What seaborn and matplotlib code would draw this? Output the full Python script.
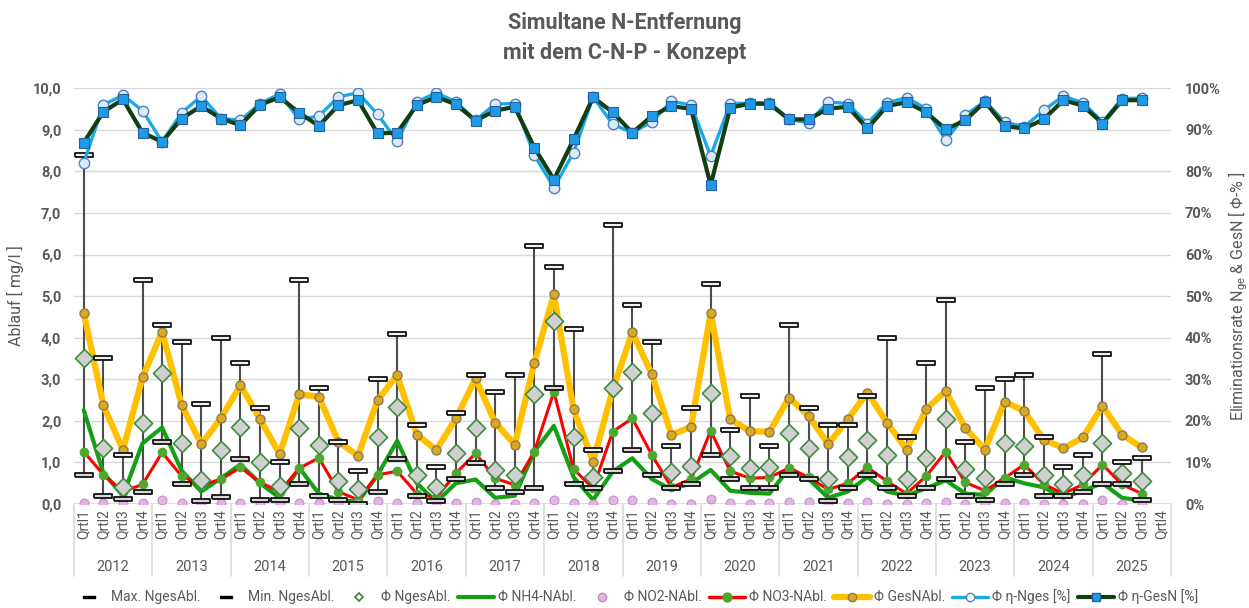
import numpy as np
import pandas as pd
import matplotlib
matplotlib.use("Agg")
import matplotlib.pyplot as plt
import matplotlib.transforms as mtransforms
from matplotlib.lines import Line2D
from matplotlib.ticker import FuncFormatter, PercentFormatter
import seaborn as sns

nan = np.nan
years = [str(y) for y in range(2012, 2026)]
quarters = ["Qrtl1", "Qrtl2", "Qrtl3", "Qrtl4"]

# Ablauf-Werte [mg/l] je Quartal (2012 Qrtl1 ... 2025 Qrtl4)
max_nges = [8.4, 3.5, 1.19, 5.38, 4.3, 3.9, 2.4, 4.0, 3.4, 2.3, 1.0, 5.38,
            2.8, 1.5, 0.79, 3.0, 4.1, 1.9, 0.9, 2.2, 3.1, 2.7, 3.1, 6.2,
            5.69, 4.2, 1.3, 6.7, 4.78, 3.9, 1.39, 2.3, 5.29, 1.79, 2.6, 1.39,
            4.3, 2.3, 1.9, 1.9, 2.6, 4.0, 1.6, 3.4, 4.9, 1.5, 2.8, 3.0,
            3.1, 1.6, 0.9, 1.19, 3.6, 1.0, 1.1, nan]
min_nges = [0.69, 0.19, 0.13, 0.29, 1.49, 0.48, 0.08, 0.18, 1.08, 0.1, 0.1, 0.48,
            0.19, 0.1, 0.0, 0.29, 1.08, 0.19, 0.08, 0.6, 0.98, 0.39, 0.29, 0.39,
            2.8, 0.48, 0.39, 0.79, 1.3, 0.7, 0.39, 0.48, 1.19, 0.59, 0.39, 0.39,
            0.7, 0.6, 0.08, 0.39, 0.7, 0.39, 0.19, 0.39, 0.59, 0.19, 0.1, 0.48,
            0.69, 0.19, 0.19, 0.29, 0.48, 0.48, 0.1, nan]
nges = [3.5, 1.35, 0.42, 1.96, 3.16, 1.47, 0.58, 1.3, 1.86, 1.02, 0.43, 1.83,
        1.43, 0.55, 0.35, 1.62, 2.34, 0.71, 0.42, 1.22, 1.84, 0.82, 0.7, 2.64,
        4.41, 1.62, 0.64, 2.78, 3.17, 2.2, 0.78, 0.92, 2.66, 1.16, 0.87, 0.9,
        1.71, 1.34, 0.59, 1.14, 1.55, 1.18, 0.59, 1.1, 2.04, 0.84, 0.62, 1.46,
        1.39, 0.71, 0.47, 0.71, 1.47, 0.74, 0.56, nan]
nh4 = [2.26, 0.75, 0.2, 1.46, 1.84, 0.8, 0.3, 0.62, 0.95, 0.5, 0.15, 0.87,
       0.25, 0.1, 0.05, 0.7, 1.52, 0.5, 0.05, 0.5, 0.59, 0.15, 0.2, 1.26,
       1.88, 0.65, 0.1, 0.78, 1.1, 0.6, 0.35, 0.5, 0.82, 0.32, 0.27, 0.25,
       0.86, 0.6, 0.15, 0.3, 0.65, 0.3, 0.2, 0.38, 0.57, 0.25, 0.22, 0.64,
       0.5, 0.4, 0.15, 0.32, 0.5, 0.15, 0.08, nan]
no2 = [0.03, 0.03, 0.02, 0.02, 0.1, 0.03, 0.0, 0.03, 0.03, 0.0, 0.0, 0.03,
       0.03, 0.0, 0.0, 0.07, 0.03, 0.03, 0.02, 0.03, 0.05, 0.0, 0.0, 0.03,
       0.1, 0.03, 0.0, 0.1, 0.1, 0.05, 0.0, 0.0, 0.13, 0.03, 0.0, 0.03,
       0.05, 0.05, 0.0, 0.02, 0.05, 0.0, 0.0, 0.03, 0.05, 0.0, 0.0, 0.03,
       0.03, 0.0, 0.0, 0.0, 0.1, 0.0, 0.0, nan]
no3 = [1.26, 0.71, 0.3, 0.47, 1.24, 0.67, 0.46, 0.59, 0.88, 0.52, 0.3, 0.86,
       1.11, 0.3, 0.1, 0.7, 0.79, 0.25, 0.15, 0.74, 1.22, 0.62, 0.46, 1.26,
       2.7, 0.84, 0.38, 1.74, 2.06, 1.18, 0.4, 0.6, 1.76, 0.79, 0.62, 0.64,
       0.87, 0.64, 0.35, 0.5, 0.88, 0.55, 0.25, 0.67, 1.26, 0.52, 0.32, 0.62,
       0.95, 0.48, 0.25, 0.47, 0.95, 0.47, 0.25, nan]
gesn = [4.6, 2.38, 1.3, 3.05, 4.14, 2.38, 1.44, 2.06, 2.86, 2.04, 1.2, 2.64,
        2.58, 1.5, 1.16, 2.5, 3.1, 1.67, 1.3, 2.06, 3.02, 1.96, 1.43, 3.4,
        5.04, 2.28, 1.02, 2.75, 4.13, 3.12, 1.66, 1.86, 4.6, 2.04, 1.75, 1.74,
        2.56, 2.12, 1.44, 2.04, 2.68, 1.96, 1.31, 2.28, 2.72, 1.82, 1.31, 2.46,
        2.24, 1.55, 1.34, 1.6, 2.36, 1.67, 1.36, nan]
# Eliminationsraten [%]
eta_nges = [82.0, 96.0, 98.3, 94.6, 87.1, 94.1, 98.1, 92.7, 92.3, 96.3, 98.6, 92.5,
            93.3, 97.9, 98.9, 93.7, 87.3, 96.7, 98.9, 96.7, 92.3, 96.2, 96.3, 83.9,
            76.1, 84.5, 97.9, 91.3, 89.3, 91.9, 96.9, 95.9, 83.7, 96.3, 96.4, 96.5,
            92.5, 91.7, 96.7, 96.3, 91.5, 96.5, 97.7, 95.1, 87.5, 93.5, 96.9, 91.9,
            90.7, 94.7, 98.1, 96.5, 91.9, 97.5, 97.6, nan]
eta_gesn = [86.9, 94.3, 97.3, 89.3, 87.1, 92.7, 95.7, 92.7, 91.1, 96.0, 97.8, 94.1,
            90.9, 95.9, 97.1, 89.1, 89.3, 95.9, 97.9, 96.1, 92.2, 94.6, 95.5, 85.7,
            78.0, 87.7, 97.8, 94.2, 89.3, 93.3, 95.7, 95.0, 76.7, 95.3, 96.3, 96.2,
            92.5, 92.5, 95.1, 95.5, 90.3, 95.7, 96.6, 94.2, 90.1, 92.3, 96.7, 90.9,
            90.3, 92.5, 97.1, 95.8, 91.5, 97.1, 97.1, nan]

df = pd.DataFrame({
    "max": max_nges, "min": min_nges, "nges": nges, "nh4": nh4, "no2": no2,
    "no3": no3, "gesn": gesn, "eta_nges": eta_nges, "eta_gesn": eta_gesn,
})
df["pos"] = np.arange(len(df))
df["qrtl"] = [q for _ in years for q in quarters]

sns.set_theme(style="white")
plt.rcParams["font.family"] = ["Roboto", "DejaVu Sans"]
txt = "#595959"

fig = plt.figure(figsize=(12.49, 6.08), dpi=100)
ax = fig.add_axes([0.0592, 0.171, 0.8784, 0.684])
ax2 = ax.twinx()

dash = [(-1, -0.22), (1, -0.22), (1, 0.22), (-1, 0.22), (-1, -0.22)]

# Hoch-Tief-Linien
ax.vlines(df["pos"], df["min"], df["max"], color="#4d4d4d", linewidth=1.5, zorder=2)

sns.lineplot(data=df, x="pos", y="nh4", color="#13a013", linewidth=3.0,
             ax=ax, legend=False, zorder=3)
sns.lineplot(data=df, x="pos", y="no3", color="#ff0000", linewidth=2.2,
             marker="o", markersize=6.5, markerfacecolor="#4ea72e",
             markeredgecolor="#4ea72e", markeredgewidth=0.5,
             ax=ax, legend=False, zorder=3)
sns.lineplot(data=df, x="pos", y="gesn", color="#ffc000", linewidth=4.5,
             marker="o", markersize=6.5, markerfacecolor="#dba91c",
             markeredgecolor="#8c7a55", markeredgewidth=1.0,
             ax=ax, legend=False, zorder=3)
sns.scatterplot(data=df, x="pos", y="nges", marker="D", s=85, color="#d0d0d0",
                edgecolor="#3f8a3f", linewidth=1.2, ax=ax, legend=False, zorder=4)
sns.scatterplot(data=df, x="pos", y="no2", marker="o", s=40, color="#e6b3e6",
                edgecolor="#c48fc4", linewidth=0.8, ax=ax, legend=False, zorder=4)
sns.scatterplot(data=df, x="pos", y="max", marker=dash, s=150, color="#f2f2f2",
                edgecolor="#111111", linewidth=1.3, ax=ax, legend=False, zorder=5)
sns.scatterplot(data=df, x="pos", y="min", marker=dash, s=150, color="#d9d9d9",
                edgecolor="#111111", linewidth=1.3, ax=ax, legend=False, zorder=5)

sns.lineplot(data=df, x="pos", y="eta_nges", color="#1aa9ec", linewidth=2.4,
             marker="o", markersize=7.5, markerfacecolor="#dce9f6",
             markeredgecolor="#4f81bd", markeredgewidth=1.0,
             ax=ax2, legend=False, zorder=3)
sns.lineplot(data=df, x="pos", y="eta_gesn", color="#123f12", linewidth=3.0,
             marker="s", markersize=6.5, markerfacecolor="#1e9be8",
             markeredgecolor="#2a6099", markeredgewidth=0.8,
             ax=ax2, legend=False, zorder=4)

# Achsen
ax.set_xlim(-0.5, len(df) - 0.5)
ax.set_ylim(0, 10)
ax.set_yticks(np.arange(0, 11, 1))
ax.yaxis.set_major_formatter(FuncFormatter(lambda v, p: f"{v:.1f}".replace(".", ",")))
ax.yaxis.grid(True, color="#d9d9d9", linewidth=1.0)
ax.set_axisbelow(True)
ax.set_xticks(df["pos"])
ax.set_xticklabels(df["qrtl"], rotation=90, fontsize=10, color=txt)
ax.tick_params(axis="x", length=0, pad=4)
ax.tick_params(axis="y", length=0, pad=9, labelsize=10.5, labelcolor=txt)
for lbl in ax.get_yticklabels():
    lbl.set_fontweight("bold")
ax.set_xlabel("")
ax.set_ylabel("Ablauf [ mg/l ]", fontsize=11.5, color=txt, labelpad=6)

ax2.set_ylim(0, 100)
ax2.set_yticks(np.arange(0, 101, 10))
ax2.yaxis.set_major_formatter(PercentFormatter(100, decimals=0))
ax2.tick_params(axis="y", length=0, labelsize=10.5, labelcolor=txt, pad=10)
for lbl in ax2.get_yticklabels():
    lbl.set_fontweight("bold")
ax2.set_ylabel("Eliminationsrate N$_{\\mathregular{ge}}$ & GesN [ Φ-% ]",
               fontsize=11.5, color=txt, labelpad=4)

for a in (ax, ax2):
    for s in ("top", "left", "right", "bottom"):
        a.spines[s].set_visible(False)
ax.axhline(0, color="#d9d9d9", linewidth=1.2, zorder=1)

# Jahresgruppen unter der Achse
trans = mtransforms.blended_transform_factory(ax.transData, ax.transAxes)
for b in np.arange(-0.5, len(df), 4):
    ax.add_line(Line2D([b, b], [0, -0.172], transform=trans, color="#d9d9d9",
                       linewidth=1.2, clip_on=False))
for i, y in enumerate(years):
    ax.text(i * 4 + 1.5, -0.151, y, transform=trans, ha="center", va="center",
            fontsize=10.5, color=txt)

# Titel
fig.text(0.5, 1 - 23 / 608, "Simultane N-Entfernung", ha="center", va="center",
         fontsize=15.5, fontweight="bold", color=txt)
fig.text(0.5, 1 - 53 / 608, "mit dem C-N-P - Konzept", ha="center", va="center",
         fontsize=15.5, fontweight="bold", color=txt)

# Legende
handles = [
    Line2D([], [], linestyle="", marker=dash, markersize=9, markerfacecolor="black",
           markeredgecolor="black"),
    Line2D([], [], linestyle="", marker=dash, markersize=9, markerfacecolor="black",
           markeredgecolor="black"),
    Line2D([], [], linestyle="", marker="D", markersize=4.5, markerfacecolor="white",
           markeredgecolor="#3f8a3f", markeredgewidth=1.3),
    Line2D([], [], color="#13a013", linewidth=3.0),
    Line2D([], [], linestyle="", marker="o", markersize=6, markerfacecolor="#e6b3e6",
           markeredgecolor="#c48fc4"),
    Line2D([], [], color="#ff0000", linewidth=2.5, marker="o", markersize=6.5,
           markerfacecolor="#4ea72e", markeredgecolor="#4ea72e"),
    Line2D([], [], color="#ffc000", linewidth=4.5, marker="o", markersize=6,
           markerfacecolor="#dba91c", markeredgecolor="#8c7a55"),
    Line2D([], [], color="#1aa9ec", linewidth=2.4, marker="o", markersize=6,
           markerfacecolor="white", markeredgecolor="#4f81bd"),
    Line2D([], [], color="#123f12", linewidth=3.0, marker="s", markersize=6,
           markerfacecolor="#1e9be8", markeredgecolor="#2a6099"),
]
labels = ["Max. NgesAbl.", "Min. NgesAbl.", "Φ NgesAbl.", "Φ NH4-NAbl.",
          "Φ NO2-NAbl.", "Φ NO3-NAbl.", "Φ GesNAbl.", "Φ η-Nges [%]", "Φ η-GesN [%]"]
leg = fig.legend(handles, labels, loc="center", bbox_to_anchor=(0.508, 1 - 597 / 608),
                 ncol=9, frameon=False, fontsize=10, handlelength=2.6,
                 handletextpad=0.3, columnspacing=0.5)
for t in leg.get_texts():
    t.set_color(txt)

fig.savefig("out.png", dpi=100)
